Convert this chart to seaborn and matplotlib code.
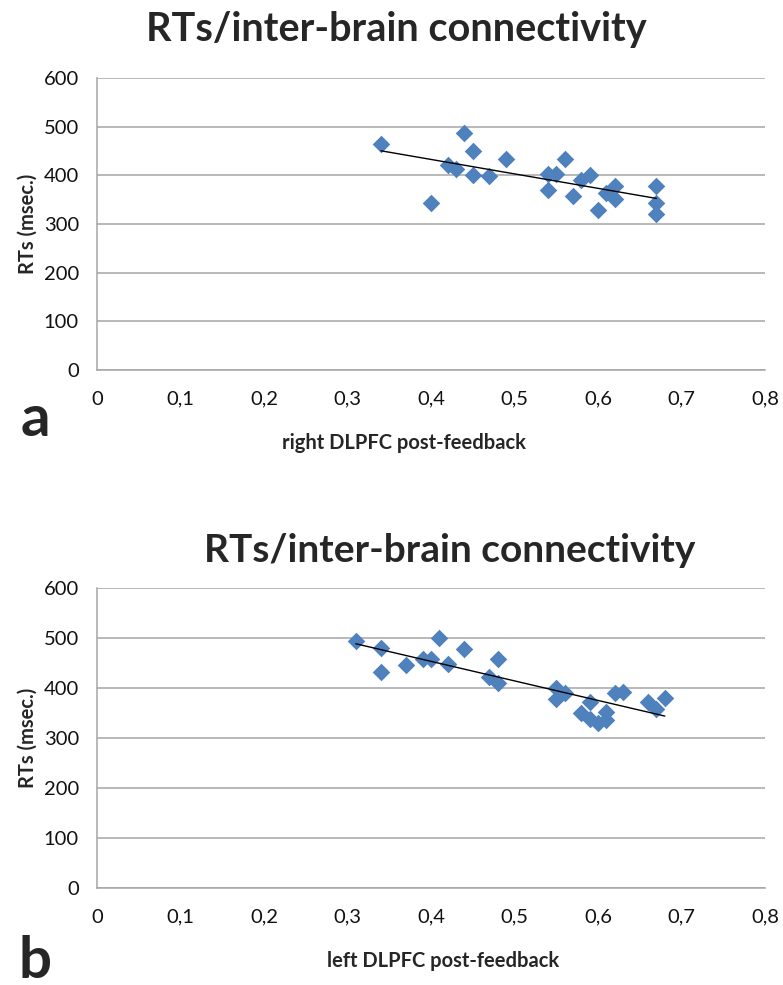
import pandas as pd
import matplotlib.pyplot as plt
import seaborn as sns

# panel a: right DLPFC post-feedback vs RTs
right_dlpfc = [0.34, 0.44, 0.45, 0.49, 0.42, 0.43, 0.45, 0.47, 0.40, 0.56, 0.54, 0.55,
               0.54, 0.57, 0.58, 0.59, 0.60, 0.61, 0.62, 0.62, 0.67, 0.67, 0.67]
rts_a = [464, 488, 449, 434, 422, 412, 401, 398, 343, 434, 403, 403,
         370, 358, 391, 401, 329, 364, 379, 351, 379, 343, 321]

# panel b: left DLPFC post-feedback vs RTs
left_dlpfc = [0.31, 0.34, 0.34, 0.37, 0.39, 0.40, 0.41, 0.42, 0.44, 0.48, 0.47, 0.48, 0.55,
              0.55, 0.56, 0.59, 0.58, 0.59, 0.60, 0.61, 0.61, 0.62, 0.63, 0.66, 0.67, 0.68]
rts_b = [495, 480, 433, 447, 458, 458, 500, 449, 478, 458, 422, 411, 400,
         378, 390, 373, 350, 338, 330, 337, 353, 390, 393, 373, 358, 381]

title = "RTs/inter-brain connectivity"
ylabel = "RTs (msec.)"
x_ticks = [0, 0.1, 0.2, 0.3, 0.4, 0.5, 0.6, 0.7, 0.8]
x_ticklabels = ["0", "0,1", "0,2", "0,3", "0,4", "0,5", "0,6", "0,7", "0,8"]
y_ticks = [0, 100, 200, 300, 400, 500, 600]

df_a = pd.DataFrame({"x": right_dlpfc, "rt": rts_a})
df_b = pd.DataFrame({"x": left_dlpfc, "rt": rts_b})

sns.set_style("white")
plt.rcParams["font.family"] = ["Lato", "DejaVu Sans"]

blue = "#4F81BD"
grid = "#A6A6A6"

fig = plt.figure(figsize=(7.83, 9.85), dpi=100)
ax_a = fig.add_axes([97 / 783, 1 - 370 / 985, 668 / 783, 292 / 985])
ax_b = fig.add_axes([97 / 783, 1 - 888 / 985, 668 / 783, 300 / 985])


def style_panel(ax, df, xlabel, xlabel_pos):
    sns.scatterplot(data=df, x="x", y="rt", ax=ax, marker="D", s=80,
                    color=blue, edgecolor=blue, linewidth=0, zorder=3)
    sns.regplot(data=df, x="x", y="rt", ax=ax, scatter=False, ci=None,
                line_kws={"color": "black", "lw": 1, "zorder": 4})
    ax.set_xlim(0, 0.8)
    ax.set_ylim(0, 600)
    ax.set_xticks(x_ticks)
    ax.set_xticklabels(x_ticklabels)
    ax.set_yticks(y_ticks)
    ax.yaxis.grid(True, color=grid, lw=1.1)
    ax.set_axisbelow(True)
    for side in ["top", "right"]:
        ax.spines[side].set_visible(False)
    for side in ["left", "bottom"]:
        ax.spines[side].set_color(grid)
        ax.spines[side].set_linewidth(1.1)
    ax.tick_params(axis="both", direction="out", length=6, width=1, color=grid,
                   labelsize=14.5, labelcolor="#111111", pad=7)
    ax.tick_params(axis="x", pad=9)
    ax.set_xlabel(xlabel, fontsize=14.5, fontweight="bold", labelpad=18)
    ax.xaxis.label.set_x(xlabel_pos)
    ax.set_ylabel(ylabel, fontsize=14.5, fontweight="bold", labelpad=4)


style_panel(ax_a, df_a, "right DLPFC post-feedback", 0.46)
style_panel(ax_b, df_b, "left DLPFC post-feedback", 0.518)

fig.text(396 / 783, 1 - 30 / 985, title, ha="center", va="center",
         fontsize=28.5, fontweight="bold")
fig.text(450 / 783, 1 - 550 / 985, title, ha="center", va="center",
         fontsize=28, fontweight="bold")
fig.text(35 / 783, 1 - 420 / 985, "a", ha="center", va="center",
         fontsize=42, fontweight="bold")
fig.text(35 / 783, 1 - 962 / 985, "b", ha="center", va="center",
         fontsize=42, fontweight="bold")

plt.savefig("out.png", dpi=100)
